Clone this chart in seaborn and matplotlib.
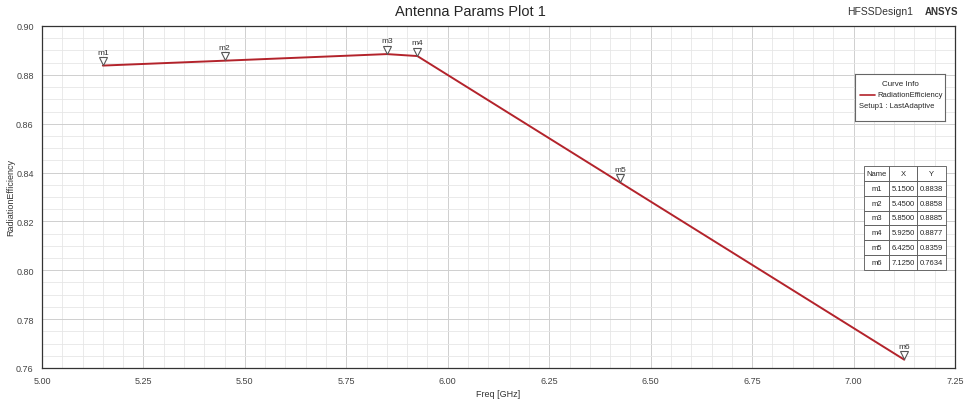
import numpy as np
import pandas as pd
import matplotlib
matplotlib.use("Agg")
import matplotlib.pyplot as plt
import seaborn as sns
from matplotlib.ticker import MultipleLocator, FormatStrFormatter
from matplotlib.transforms import ScaledTranslation

freq = [5.15, 5.45, 5.85, 5.925, 6.425, 7.125]
eff = [0.8838, 0.8858, 0.8885, 0.8877, 0.8359, 0.7634]
marker_names = ["m1", "m2", "m3", "m4", "m5", "m6"]

df = pd.DataFrame({"Freq": freq, "RadiationEfficiency": eff})

sns.set_style("white")
plt.rcParams["font.family"] = ["Liberation Sans", "DejaVu Sans"]

fig = plt.figure(figsize=(9.71, 4.02), dpi=100)
ax = fig.add_axes([42 / 971, 33 / 402, 913 / 971, 342 / 402])

sns.lineplot(data=df, x="Freq", y="RadiationEfficiency", ax=ax,
             color="#b3232b", linewidth=1.4)

# markers: open triangle just above the point, name above that
shift = ax.transData + ScaledTranslation(0, 3.2 / 72, fig.dpi_scale_trans)
for x, y, n in zip(freq, eff, marker_names):
    ax.plot(x, y, marker="v", mfc="white", mec="#555555", ms=6, mew=0.8,
            zorder=5, linestyle="none", transform=shift)
    ax.annotate(n, xy=(x, y), xytext=(0, 7), textcoords="offset points",
                fontsize=6, ha="center", va="bottom", color="#333333")

ax.set_xlim(5.0, 7.25)
ax.set_ylim(0.76, 0.90)
ax.xaxis.set_major_locator(MultipleLocator(0.25))
ax.xaxis.set_minor_locator(MultipleLocator(0.05))
ax.yaxis.set_major_locator(MultipleLocator(0.02))
ax.yaxis.set_minor_locator(MultipleLocator(0.005))
ax.xaxis.set_major_formatter(FormatStrFormatter("%.2f"))
ax.yaxis.set_major_formatter(FormatStrFormatter("%.2f"))
ax.grid(which="major", color="#cfcfcf", linewidth=0.7)
ax.grid(which="minor", color="#e6e6e6", linewidth=0.6)
ax.tick_params(which="major", direction="out", length=4, labelsize=6.5, colors="#444444", width=0.8, pad=2)
ax.tick_params(which="minor", direction="out", length=2, width=0.6, colors="#444444")
for s in ax.spines.values():
    s.set_color("#333333")
    s.set_linewidth(0.9)
ax.set_xlabel("Freq [GHz]", fontsize=6.5, color="#333333", labelpad=3)
ax.set_ylabel("RadiationEfficiency", fontsize=6.5, color="#333333")
ax.yaxis.set_label_coords(-27 / 913, 0.5)

fig.text(470 / 971, 1 - 12 / 402, "Antenna Params Plot 1", ha="center", va="center", fontsize=10.5)
fig.text(880 / 971, 1 - 12 / 402, "HFSSDesign1", ha="center", va="center", fontsize=7.5, color="#333333")
fig.text(941 / 971, 1 - 12 / 402, "ANSYS", ha="center", va="center", fontsize=7,
         fontweight="bold", color="#333333")

# curve info box
box = fig.add_axes([855 / 971, 1 - 122 / 402, 90 / 971, 47 / 402])
box.set_xticks([]); box.set_yticks([])
box.set_facecolor("white")
for s in box.spines.values():
    s.set_color("#666666"); s.set_linewidth(0.8)
box.set_xlim(0, 1); box.set_ylim(0, 1)
box.text(0.5, 0.80, "Curve Info", ha="center", va="center", fontsize=5.8)
box.plot([0.05, 0.22], [0.56, 0.56], color="#b3232b", lw=1.2)
box.text(0.98, 0.56, "RadiationEfficiency", ha="right", va="center", fontsize=5.5)
box.text(0.04, 0.33, "Setup1 : LastAdaptive", ha="left", va="center", fontsize=5.5)

# marker table
tab = fig.add_axes([864 / 971, 1 - 271 / 402, 82 / 971, 104 / 402])
tab.axis("off")
rows = [[n, "%.4f" % x, "%.4f" % y] for n, x, y in zip(marker_names, freq, eff)]
t = tab.table(cellText=rows, colLabels=["Name", "X", "Y"], cellLoc="center",
              bbox=[0, 0, 1, 1], colWidths=[0.30, 0.35, 0.35])
t.auto_set_font_size(False)
t.set_fontsize(5.5)
for c in t.get_celld().values():
    c.set_edgecolor("#555555")
    c.set_linewidth(0.6)
    c.PAD = 0.02

fig.savefig("out.png", dpi=100)
